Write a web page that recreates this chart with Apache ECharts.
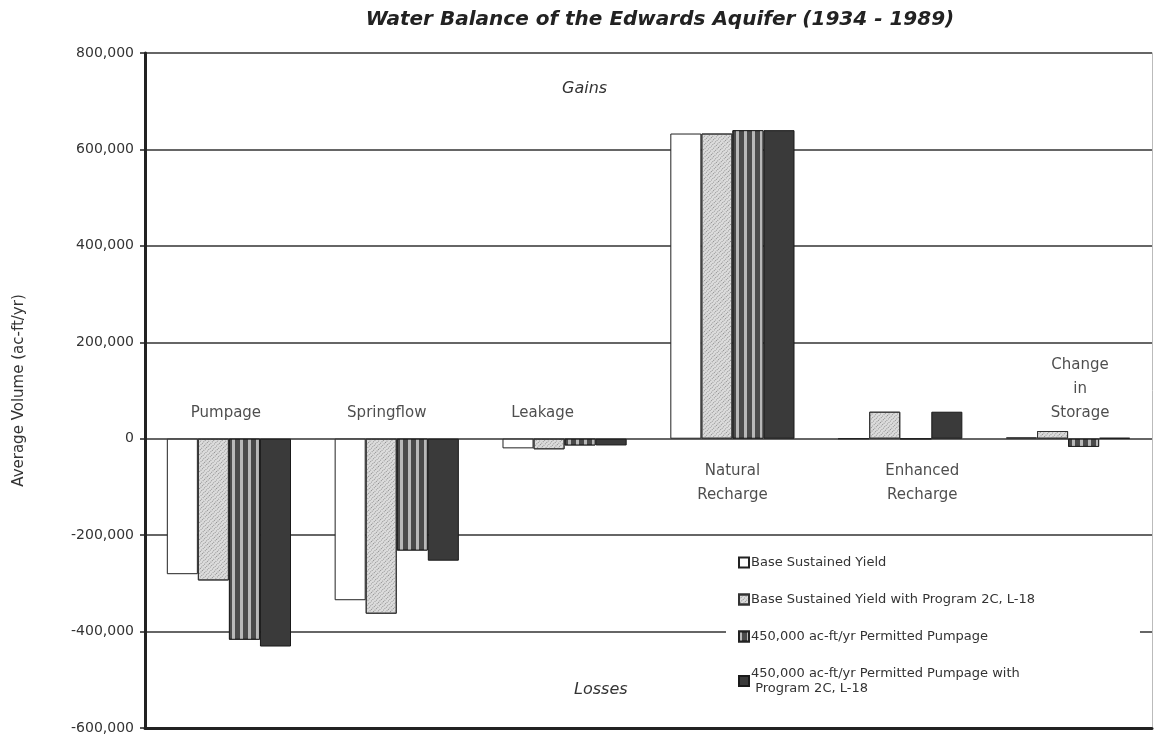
<!DOCTYPE html>
<html>
<head>
<meta charset="utf-8">
<title>Water Balance of the Edwards Aquifer</title>
<script src="https://cdn.jsdelivr.net/npm/echarts@6/dist/echarts.min.js"></script>
<style>
  html, body { margin: 0; padding: 0; background: #fff; }
  #chart { width: 1156px; height: 742px; }
</style>
</head>
<body>
<div id="chart"></div>
<script>
// categories and whether their label sits above the zero line
const categories = ['Pumpage', 'Springflow', 'Leakage', 'Natural\nRecharge', 'Enhanced\nRecharge', 'Change\nin\nStorage']
const labelAbove = [true, true, true, false, false, true]

const seriesNames = [
  'Base Sustained Yield',
  'Base Sustained Yield with Program 2C, L-18',
  '450,000 ac-ft/yr Permitted Pumpage',
  '450,000 ac-ft/yr Permitted Pumpage with\n Program 2C, L-18',
]

// average volume, ac-ft/yr
const baseYield = [-281000, -335000, -20000, 633000, 0, 3000]
const baseYield2C = [-294000, -363000, -22000, 633000, 56000, 16000]
const permitted = [-417000, -232000, -14000, 640000, 0, -17000]
const permitted2C = [-431000, -253000, -14000, 640000, 56000, 2000]

const yTicks = { min: -600000, max: 800000, interval: 200000 }

const font = 'DejaVu Sans, Verdana, sans-serif'

const styles = [
  { color: '#ffffff', borderColor: '#222', borderWidth: 1 },
  {
    color: '#dcdcdc', borderColor: '#333', borderWidth: 1,
    decal: { symbol: 'rect', symbolSize: 1, dashArrayX: [1, 2], dashArrayY: [1, 1], rotation: 0.785, color: '#8f8f8f' },
  },
  {
    color: '#4a4a4a', borderColor: '#222', borderWidth: 1,
    decal: { symbol: 'rect', symbolSize: 1, dashArrayX: [3, 5], dashArrayY: [4, 0], rotation: 0, color: '#b8b8b8' },
  },
  { color: '#3a3a3a', borderColor: '#1a1a1a', borderWidth: 1 },
]

const values = [baseYield, baseYield2C, permitted, permitted2C]

const chart = echarts.init(document.getElementById('chart'))

const barSeries = values.map((data, i) => ({
  name: seriesNames[i],
  type: 'bar',
  data: data,
  barGap: '0%',
  barCategoryGap: '26%',
  itemStyle: styles[i],
  z: 3,
}))

// the labels were placed by hand in the original, nudge them sideways a bit
const labelShift = [-3, -10, -22, 0, 22, 12]

// category names written at the zero line, above or below it
const labelSeries = {
  name: 'category labels',
  type: 'scatter',
  symbolSize: 0,
  silent: true,
  z: 5,
  data: categories.map((c, i) => ({
    value: [c, 0],
    label: {
      position: labelAbove[i] ? 'top' : 'bottom',
      distance: labelAbove[i] ? 14 : 20,
      offset: [labelShift[i], 0],
    },
  })),
  label: {
    show: true,
    formatter: p => categories[p.dataIndex],
    fontFamily: font,
    fontSize: 15,
    lineHeight: 24,
    color: '#222',
    align: 'center',
  },
}

chart.setOption({
  backgroundColor: '#fff',
  animation: false,
  textStyle: { fontFamily: font },
  title: {
    text: 'Water Balance of the Edwards Aquifer (1934 - 1989)',
    left: 655,
    top: 5,
    textAlign: 'center',
    textStyle: { fontFamily: font, fontSize: 20, fontWeight: 'bold', fontStyle: 'italic', color: '#222' },
  },
  grid: { left: 145, right: 4, top: 53, bottom: 14, containLabel: false, outerBoundsMode: 'none' },
  legend: {
    orient: 'vertical',
    left: 726,
    top: 549,
    icon: 'rect',
    itemWidth: 10,
    itemHeight: 10,
    itemGap: 22,
    backgroundColor: '#fff',
    padding: [6, 105, 6, 12],
    data: seriesNames,
    textStyle: { fontFamily: font, fontSize: 13, lineHeight: 15, color: '#333', padding: [0, 0, 0, -3] },
  },
  xAxis: {
    type: 'category',
    data: categories,
    axisLine: { onZero: false, lineStyle: { color: '#222', width: 3 } },
    axisTick: { show: false },
    axisLabel: { show: false },
  },
  yAxis: [
    {
      type: 'value',
      min: yTicks.min,
      max: yTicks.max,
      interval: yTicks.interval,
      name: 'Average Volume (ac-ft/yr)',
      nameLocation: 'middle',
      nameGap: 118,
      nameTextStyle: { fontFamily: font, fontSize: 15, color: '#333' },
      axisLine: { show: true, lineStyle: { color: '#222', width: 3 } },
      axisTick: { show: true, length: 5, lineStyle: { color: '#222', width: 1.5 } },
      axisLabel: {
        margin: 11,
        fontSize: 14,
        color: '#333',
        formatter: v => v.toLocaleString('en-US'),
      },
      splitLine: { show: true, lineStyle: { color: '#333', width: 1.5 } },
    },
    {
      type: 'value',
      position: 'right',
      min: yTicks.min,
      max: yTicks.max,
      interval: yTicks.interval,
      axisLine: { show: true, lineStyle: { color: '#bbb', width: 1 } },
      axisTick: { show: false },
      axisLabel: { show: false },
      splitLine: { show: false },
    },
  ],
  series: [...barSeries, labelSeries],
  graphic: [
    {
      type: 'text',
      left: 562,
      top: 81,
      style: { text: 'Gains', font: 'italic 16px DejaVu Sans', fill: '#333' },
    },
    {
      type: 'text',
      left: 574,
      top: 682,
      style: { text: 'Losses', font: 'italic 16px DejaVu Sans', fill: '#333' },
    },
  ],
})
</script>
</body>
</html>
